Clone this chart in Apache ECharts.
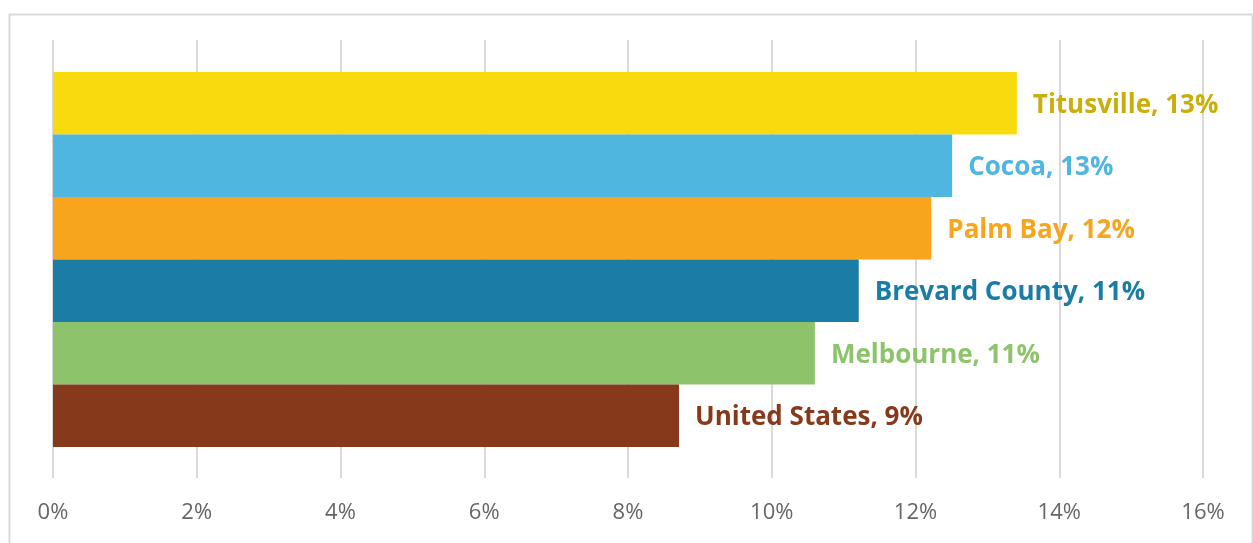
<!DOCTYPE html>
<html>
<head>
<meta charset="utf-8">
<script src="https://cdn.jsdelivr.net/npm/echarts@6/dist/echarts.min.js"></script>
<style>html,body{margin:0;padding:0;background:#fff;}#c{width:1253px;height:543px;}</style>
</head>
<body>
<div id="c"></div>
<script>
const categories = ['Titusville', 'Cocoa', 'Palm Bay', 'Brevard County', 'Melbourne', 'United States'];
const values = [13.41, 12.51, 12.22, 11.21, 10.60, 8.71];
const barColors = ['#F9DA0E', '#4FB6E0', '#F6A51C', '#1B7CA6', '#8DC36B', '#873A1B'];
const labelColors = ['#C9AE0C', '#4FB6E0', '#F6A51C', '#1B7CA6', '#8DC36B', '#873A1B'];
const xTicks = [0, 2, 4, 6, 8, 10, 12, 14, 16];

const chart = echarts.init(document.getElementById('c'));
chart.setOption({
  backgroundColor: '#fff',
  animation: false,
  graphic: [{
    type: 'rect', left: 7, top: 12, silent: true,
    shape: { width: 1243, height: 560 },
    style: { fill: 'none', stroke: '#D9D9D9', lineWidth: 2 }
  }],
  grid: [
    { left: 53, right: 50, top: 40, bottom: 65 },
    { left: 53, right: 50, top: 72, bottom: 96 }
  ],
  xAxis: [
    {
      gridIndex: 0, type: 'value', min: xTicks[0], max: xTicks[xTicks.length - 1], interval: 2,
      axisLine: { show: false }, axisTick: { show: false },
      splitLine: { show: true, lineStyle: { color: '#D9D9D9', width: 2 } },
      axisLabel: { formatter: v => v + '%', color: '#666', fontSize: 22, fontFamily: 'Open Sans', margin: 24 }
    },
    {
      gridIndex: 1, type: 'value', min: 0, max: 16, interval: 2, show: false
    }
  ],
  yAxis: [
    { gridIndex: 0, type: 'category', data: categories, show: false },
    {
      gridIndex: 1, type: 'category', data: categories, inverse: true, show: false
    }
  ],
  series: [{
    type: 'bar',
    xAxisIndex: 1, yAxisIndex: 1,
    barCategoryGap: 0,
    data: values.map((v, i) => ({
      value: v,
      itemStyle: { color: barColors[i] },
      label: { color: labelColors[i] }
    })),
    label: {
      show: true, position: 'right', distance: 16, offset: [0, 2],
      fontFamily: 'Open Sans', fontWeight: 'bold', fontSize: 26,
      formatter: p => p.name + ', ' + Math.round(p.value) + '%'
    }
  }]
});
</script>
</body>
</html>
